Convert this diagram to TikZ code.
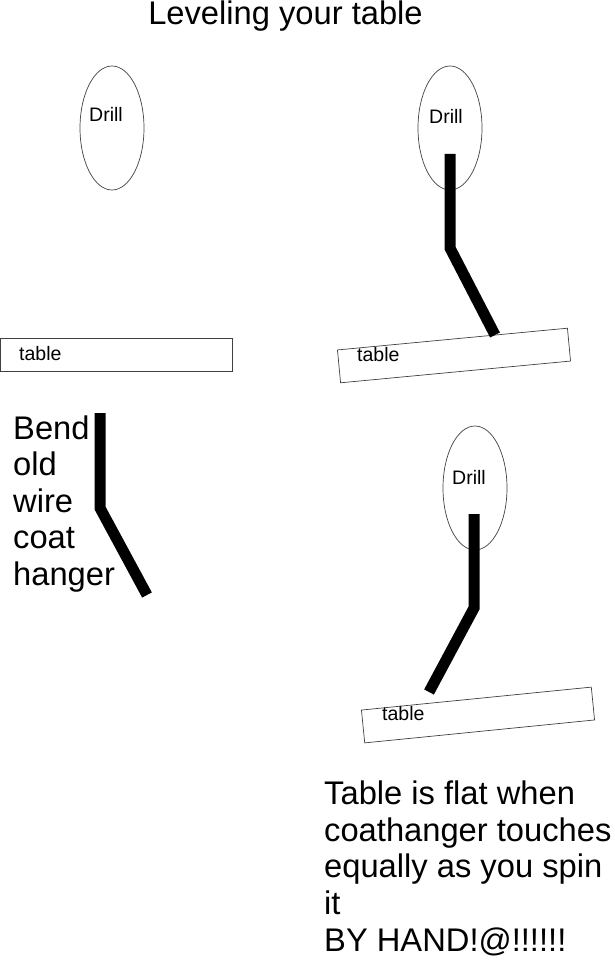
\documentclass[tikz,border=0pt]{standalone}
\usepackage{fontspec}
\setmainfont{Liberation Sans}
\usetikzlibrary{shapes.geometric}
\tikzset{
  drill/.style={draw=black!75, ellipse, minimum width=64pt, minimum height=124pt, inner sep=0pt, line width=0.7pt},
  tabletop/.style={draw=black!75, minimum width=231pt, minimum height=33pt, inner sep=0pt, line width=0.7pt},
  hanger/.style={line width=11pt, line cap=butt, line join=miter},
  small/.style={font=\fontsize{19.5}{22}\selectfont, inner sep=0pt},
  big/.style={font=\fontsize{32.7}{36.6}\selectfont, inner sep=0pt, align=left}
}

\begin{document}
\begin{tikzpicture}[x=1pt,y=-1pt]
	\useasboundingbox (0,0) rectangle (614,960);
	\node[big, anchor=base] (title) at (285.5,25) {Leveling your table};
	% before: flat table, drill above
	\node[drill] (drillA) at (112,128) {};
	\node[small, anchor=base] (drillAtext) at (106,122) {Drill};
	\node[tabletop, minimum width=232pt, anchor=north west] (tableA) at (0,338) {};
	\node[small, anchor=base west] (tableAtext) at (19,360) {table};
	% the bent hanger
	\draw[hanger] (100,413) -- (100,508) -- (147,595); % wire
	\node[big, anchor=base west] (bendtext) at (13,585.5) {Bend\\old\\wire\\coat\\hanger}; % base = last line
	% hanger in the chuck, table tilted
	\node[drill] (drillB) at (450,128) {};
	\node[small, anchor=base] (drillBtext) at (446,124) {Drill};
	\node[tabletop, rotate=5.4] (tableB) at (454,355.5) {};
	\node[small, anchor=base west] (tableBtext) at (357,361) {table};
	\draw[hanger] (450,154) -- (450,248) -- (495,335); % wire
	% spun half a turn
	\node[drill] (drillC) at (475,488) {};
	\node[small, anchor=base] (drillCtext) at (469,484) {Drill};
	\node[tabletop, rotate=5.7] (tableC) at (478,715) {};
	\node[small, anchor=base west] (tableCtext) at (382,720) {table};
	\draw[hanger] (474,514) -- (474,608) -- (429,692); % wire
	\node[big, anchor=base west] (flattext) at (324,951) {Table is flat when\\coathanger touches\\equally as you spin\\it\\BY HAND!@!!!!!!};
\end{tikzpicture}
\end{document}
